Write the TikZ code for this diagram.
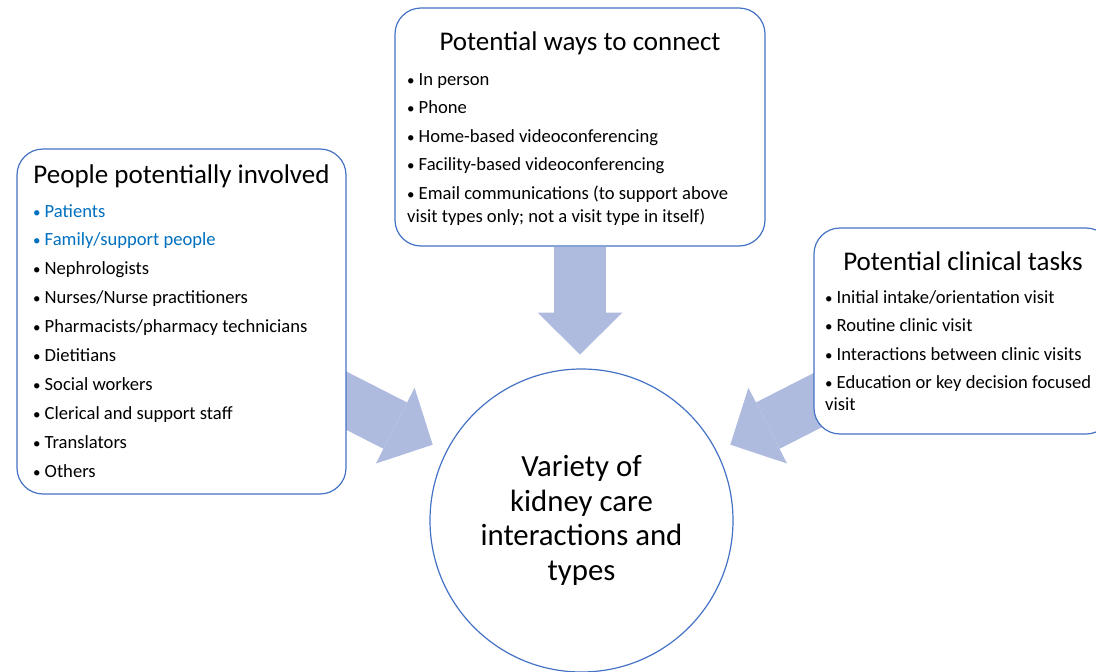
\documentclass[tikz,border=0pt]{standalone}
\usepackage{fontspec}
\setmainfont{Carlito}
\usetikzlibrary{arrows.meta,calc,positioning}
\definecolor{edgeblue}{RGB}{68,114,196}
\definecolor{arrowfill}{RGB}{175,187,222}
\definecolor{listblue}{RGB}{0,112,192}
\newcommand{\bul}{\makebox[11.5pt][l]{\fontsize{15}{15}\selectfont •}}
\tikzset{
	panel/.style={draw=edgeblue,line width=1.2pt,fill=white,rounded corners=26pt},
	paneltitle/.style={anchor=base,inner sep=0pt,font=\fontsize{27}{32}\selectfont},
	entry/.style={anchor=base west,inner sep=0pt,font=\fontsize{18.6}{22}\selectfont},
	bigarrow/.style={arrowfill,line width=52pt,-{Triangle[length=42pt,width=85pt,line width=0pt]}},
}
\begin{document}
\begin{tikzpicture}[x=1pt,y=-1pt]
\useasboundingbox (0,0) rectangle (1096,672);
\clip (0,0) rectangle (1096,672);
% centre circle
\node (hub) at (581.5,520.5) [circle,draw=edgeblue,line width=1.2pt,minimum size=303pt,inner sep=0pt,align=center,font=\fontsize{30.8}{34.5}\selectfont] {Variety of\\kidney care\\interactions and\\types};
% side arrows (the boxes cover their tails)
\draw[bigarrow] ($(hub)+(207:330)$) -- ($(hub)+(207:167)$);
\draw[bigarrow] ($(hub)+(333:330)$) -- ($(hub)+(333:167)$);
% boxes
\node (people) at (181.5,321.5) [panel,minimum width=329pt,minimum height=345pt] {};
\node (tasks) at (963,331) [panel,minimum width=298pt,minimum height=206pt] {};
\node (ways) at (580,127) [panel,minimum width=370pt,minimum height=238pt] {};
\coordinate (ttip) at ($(hub)+(270:166)$);
\draw[bigarrow] (ways.south) -- (ways.south |- ttip);
% people
\node (ptitle) at (181.5,183) [paneltitle] {People potentially involved};
\foreach \txt [count=\i] in {Patients,Family/support people}
	\node (p\i) at (33,{217+28.9*(\i-1)}) [entry,text=listblue] {\bul\txt};
\foreach \txt [count=\i from 3] in {Nephrologists,Nurses/Nurse practitioners,Pharmacists/pharmacy technicians,Dietitians,Social workers,Clerical and support staff,Translators,Others}
	\node (p\i) at (33,{217+28.9*(\i-1)}) [entry] {\bul\txt};
% ways
\node (wtitle) at (580,50) [paneltitle] {Potential ways to connect};
\foreach \txt [count=\i] in {In person,Phone,Home-based videoconferencing,Facility-based videoconferencing,Email communications (to support above}
	\node (w\i) at (407,{85+28.6*(\i-1)}) [entry] {\bul\txt};
\node (w5b) at (407,222) [entry] {visit types only; not a visit type in itself)};
% tasks
\node (ttitle) at (963,270) [paneltitle] {Potential clinical tasks};
\foreach \txt [count=\i] in {Initial intake/orientation visit,Routine clinic visit,Interactions between clinic visits,Education or key decision focused}
	\node (t\i) at (825,{303+28.6*(\i-1)}) [entry] {\bul\txt};
\node (t4b) at (825,410) [entry] {visit};
\end{tikzpicture}
\end{document}
